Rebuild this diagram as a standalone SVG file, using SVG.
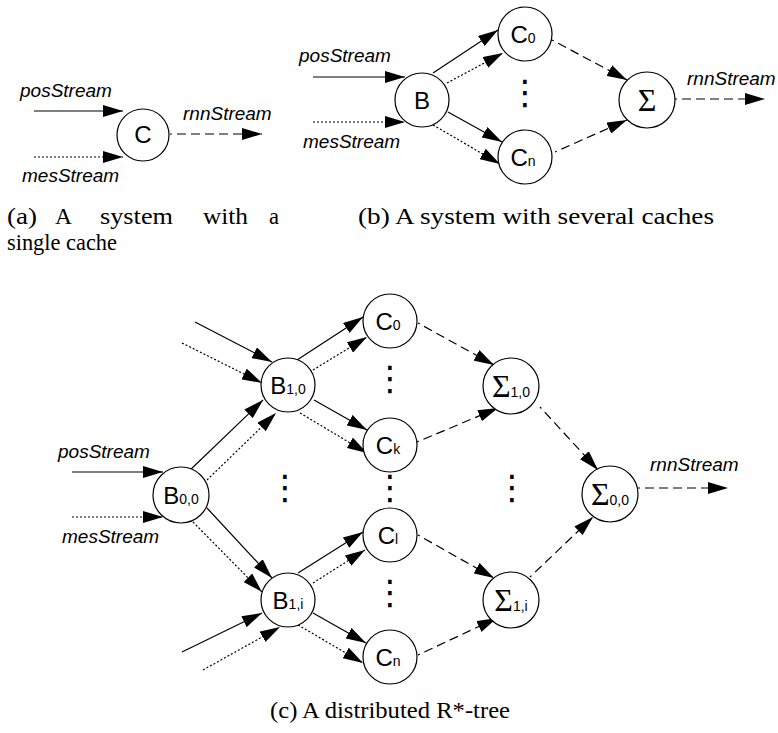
<svg xmlns="http://www.w3.org/2000/svg" width="778" height="733" viewBox="0 0 778 733">
  <style>
    .node { fill: #fff; stroke: #000; stroke-width: 1.2; }
    .lbl { font-family: "Liberation Sans", Arial, sans-serif; font-size: 24px; fill: #000; text-anchor: middle; }
    .sub { font-size: 14px; }
    .sig { font-family: "Liberation Serif", "DejaVu Serif", serif; font-size: 32px; }
    .stream { font-family: "Liberation Sans", Arial, sans-serif; font-style: italic; font-size: 19px; fill: #000; }
    .cap { font-family: "Liberation Serif", "DejaVu Serif Condensed", "DejaVu Serif", serif; font-stretch: condensed; font-size: 23px; fill: #000; }
    .vdots { font-family: "DejaVu Sans", sans-serif; font-size: 34px; fill: #000; text-anchor: middle; }
    .solid { fill: none; stroke: #000; stroke-width: 1.2; marker-end: url(#tip); }
    .dotted { fill: none; stroke: #000; stroke-width: 1.2; stroke-dasharray: 2 2; marker-end: url(#tip); }
    .dashed { fill: none; stroke: #000; stroke-width: 1.2; stroke-dasharray: 9 5; stroke-dashoffset: 7; marker-end: url(#tip); }
  </style>
  <defs>
    <marker id="tip" markerUnits="userSpaceOnUse" markerWidth="20" markerHeight="12" viewBox="0 0 20 12" refX="20" refY="6" orient="auto">
      <path d="M0,0 L20,6 L0,12 Z" fill="#000"/>
    </marker>
  </defs>

  <!-- connectors -->
  <g id="connectors">
    <!-- (a) single cache -->
    <path class="solid" d="M34,111 L123,111"/>
    <path class="dotted" d="M34,157 L123,157"/>
    <path class="dashed" d="M170,134 L262,134"/>

    <!-- (b) several caches -->
    <path class="solid" d="M313,77 L405,77"/>
    <path class="dotted" d="M313,122 L405,122"/>
    <path class="solid" d="M433,73 L498,30"/>
    <path class="dotted" d="M447,83 L503,53"/>
    <path class="solid" d="M448,112 L502,142"/>
    <path class="dotted" d="M433,125 L500,164"/>
    <path class="dashed" d="M552,40 L627,80"/>
    <path class="dashed" d="M555,152 L627,120"/>
    <path class="dashed" d="M675,99 L765,99"/>

    <!-- (c) distributed tree -->
    <path class="solid" d="M72,472 L163,472"/>
    <path class="dotted" d="M72,517 L163,517"/>
    <path class="solid" d="M188,472 L263,400"/>
    <path class="dotted" d="M207,480 L276,413"/>
    <path class="solid" d="M207,508 L272,578"/>
    <path class="dotted" d="M193,522 L262,592"/>
    <path class="solid" d="M195,322 L272,362"/>
    <path class="dotted" d="M182,343 L262,383"/>
    <path class="solid" d="M182,652 L262,613"/>
    <path class="dotted" d="M203,670 L280,627"/>
    <path class="solid" d="M297,360 L363,317"/>
    <path class="dotted" d="M313,370 L367,337"/>
    <path class="solid" d="M314,400 L367,430"/>
    <path class="dotted" d="M300,413 L367,453"/>
    <path class="solid" d="M298,573 L363,532"/>
    <path class="dotted" d="M313,583 L365,550"/>
    <path class="solid" d="M313,613 L366,643"/>
    <path class="dotted" d="M298,625 L363,663"/>
    <path class="dashed" d="M418,323 L494,365"/>
    <path class="dashed" d="M417,442 L498,408"/>
    <path class="dashed" d="M418,535 L494,578"/>
    <path class="dashed" d="M418,655 L497,618"/>
    <path class="dashed" d="M540,407 L598,470"/>
    <path class="dashed" d="M530,577 L593,517"/>
    <path class="dashed" d="M638,488 L728,488"/>
  </g>

  <!-- stream labels -->
  <g id="stream-labels">
    <text class="stream" x="20" y="97">posStream</text>
    <text class="stream" x="22" y="182">mesStream</text>
    <text class="stream" x="183" y="120">rnnStream</text>
    <text class="stream" x="299" y="62">posStream</text>
    <text class="stream" x="303" y="148">mesStream</text>
    <text class="stream" x="687" y="85">rnnStream</text>
    <text class="stream" x="58" y="458">posStream</text>
    <text class="stream" x="62" y="543">mesStream</text>
    <text class="stream" x="650" y="471">rnnStream</text>
  </g>

  <!-- (a) nodes -->
  <g id="a-C"><circle class="node" cx="143" cy="135" r="26"/><text class="lbl" x="143" y="143">C</text></g>

  <!-- (b) nodes -->
  <g id="b-B"><circle class="node" cx="422" cy="100" r="27"/><text class="lbl" x="422" y="109">B</text></g>
  <g id="b-C0"><circle class="node" cx="525" cy="34" r="27"/><text class="lbl" x="523" y="43">C<tspan class="sub">0</tspan></text></g>
  <g id="b-Cn"><circle class="node" cx="525" cy="157" r="27"/><text class="lbl" x="523" y="166">C<tspan class="sub">n</tspan></text></g>
  <g id="b-Sum"><circle class="node" cx="647" cy="100" r="28"/><text class="lbl sig" x="647" y="111">Σ</text></g>
  <text class="vdots" x="525" y="104">⋮</text>

  <!-- (c) nodes -->
  <g id="c-B00"><circle class="node" cx="181" cy="495" r="28"/><text class="lbl" x="181" y="504">B<tspan class="sub">0,0</tspan></text></g>
  <g id="c-B10"><circle class="node" cx="288" cy="385" r="27"/><text class="lbl" x="288" y="394">B<tspan class="sub">1,0</tspan></text></g>
  <g id="c-B1i"><circle class="node" cx="288" cy="600" r="27"/><text class="lbl" x="288" y="609">B<tspan class="sub">1,i</tspan></text></g>
  <g id="c-C0"><circle class="node" cx="390" cy="321" r="27"/><text class="lbl" x="388" y="330">C<tspan class="sub">0</tspan></text></g>
  <g id="c-Ck"><circle class="node" cx="390" cy="445" r="27"/><text class="lbl" x="388" y="454">C<tspan class="sub">k</tspan></text></g>
  <g id="c-Cl"><circle class="node" cx="390" cy="535" r="27"/><text class="lbl" x="388" y="544">C<tspan class="sub">l</tspan></text></g>
  <g id="c-Cn"><circle class="node" cx="390" cy="657" r="27"/><text class="lbl" x="388" y="666">C<tspan class="sub">n</tspan></text></g>
  <g id="c-S10"><circle class="node" cx="511" cy="386" r="28"/><text class="lbl" x="511" y="397"><tspan class="sig">Σ</tspan><tspan class="sub">1,0</tspan></text></g>
  <g id="c-S1i"><circle class="node" cx="511" cy="600" r="28"/><text class="lbl" x="511" y="611"><tspan class="sig">Σ</tspan><tspan class="sub">1,i</tspan></text></g>
  <g id="c-S00"><circle class="node" cx="610" cy="494" r="28"/><text class="lbl" x="610" y="505"><tspan class="sig">Σ</tspan><tspan class="sub">0,0</tspan></text></g>
  <text class="vdots" x="390" y="390">⋮</text>
  <text class="vdots" x="285" y="499">⋮</text>
  <text class="vdots" x="390" y="499">⋮</text>
  <text class="vdots" x="512" y="499">⋮</text>
  <text class="vdots" x="390" y="604">⋮</text>

  <!-- captions -->
  <g id="captions">
    <text class="cap" x="7" y="224" textLength="30" lengthAdjust="spacingAndGlyphs">(a)</text>
    <text class="cap" x="55" y="224" textLength="17" lengthAdjust="spacingAndGlyphs">A</text>
    <text class="cap" x="100" y="224" textLength="73" lengthAdjust="spacingAndGlyphs">system</text>
    <text class="cap" x="203" y="224" textLength="45" lengthAdjust="spacingAndGlyphs">with</text>
    <text class="cap" x="269" y="224" textLength="10" lengthAdjust="spacingAndGlyphs">a</text>
    <text class="cap" x="7" y="250" textLength="110" lengthAdjust="spacingAndGlyphs">single cache</text>
    <text class="cap" x="358" y="224" textLength="356" lengthAdjust="spacingAndGlyphs">(b) A system with several caches</text>
    <text class="cap" x="270" y="718" textLength="240" lengthAdjust="spacingAndGlyphs">(c) A distributed R*-tree</text>
  </g>
</svg>
